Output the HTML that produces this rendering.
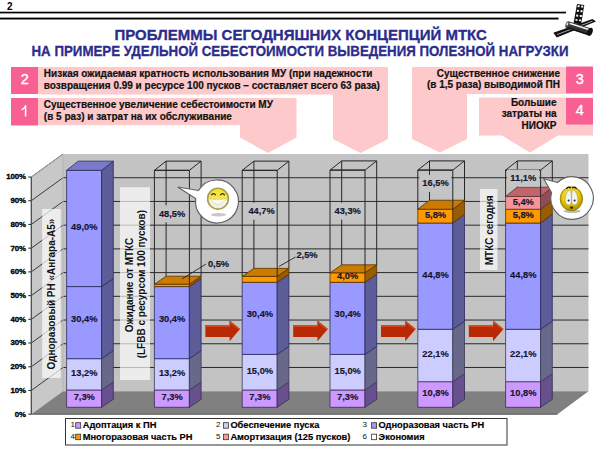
<!DOCTYPE html>
<html><head><meta charset="utf-8"><title>slide</title><style>
html,body{margin:0;padding:0;background:#fff;}
svg{display:block;}
text{font-family:"Liberation Sans",sans-serif;}
.pg{font-size:10px;font-weight:bold;fill:#000;}
.t1{font-size:15px;font-weight:bold;fill:#2c2c8c;stroke:#2c2c8c;stroke-width:0.3px;}
.t2{font-size:14px;font-weight:bold;fill:#2c2c8c;stroke:#2c2c8c;stroke-width:0.3px;}
.bx{font-size:10px;font-weight:bold;fill:#111;stroke:#111;stroke-width:0.2px;}
.dg{font-size:14.5px;fill:#fff;stroke:#fff;stroke-width:0.35px;}
.ax{font-size:7.8px;font-weight:bold;fill:#000;stroke:#000;stroke-width:0.35px;letter-spacing:-0.1px;}
.bl{font-size:9.3px;font-weight:bold;fill:#14142e;stroke:#14142e;stroke-width:0.15px;}
.rl{font-size:10px;font-weight:bold;fill:#111;}
.ln{font-size:8px;fill:#111;}
.lt{font-size:9.3px;font-weight:bold;fill:#000;stroke:#000;stroke-width:0.15px;}
</style></head>
<body><svg width="600" height="450" viewBox="0 0 600 450"><defs>
<linearGradient id="sm1" x1="0" y1="0" x2="0" y2="1"><stop offset="0" stop-color="#f2e030"/><stop offset="0.5" stop-color="#f4e650"/><stop offset="0.62" stop-color="#f8f6e6"/><stop offset="1" stop-color="#eeeee6"/></linearGradient>
<radialGradient id="sm2" cx="0.45" cy="0.35" r="0.7"><stop offset="0" stop-color="#fff070"/><stop offset="0.55" stop-color="#e8c800"/><stop offset="1" stop-color="#a08000"/></radialGradient>
</defs>
<text x="7" y="9.6" class="pg">2</text>
<rect x="0" y="11.7" width="566" height="1.7" fill="#000"/>
<rect x="0" y="17.6" width="558.5" height="1.9" fill="#000"/>
<text x="300.7" y="40" text-anchor="middle" class="t1">ПРОБЛЕММЫ СЕГОДНЯШНИХ КОНЦЕПЦИЙ МТКС</text>
<text x="300" y="56" text-anchor="middle" class="t2" textLength="537" lengthAdjust="spacingAndGlyphs">НА ПРИМЕРЕ УДЕЛЬНОЙ СЕБЕСТОИМОСТИ ВЫВЕДЕНИЯ ПОЛЕЗНОЙ НАГРУЗКИ</text>
<g>
 <polygon points="577,4 584.3,5 581.1,24.2 573.5,23.6" fill="#111"/>
 <g fill="#fff">
  <rect x="577.6" y="5.2" width="2" height="2"/><rect x="581.2" y="5.6" width="2" height="2"/>
  <rect x="576.9" y="9.8" width="2" height="2"/><rect x="580.5" y="10.2" width="2" height="2"/>
  <rect x="576.2" y="14.6" width="2" height="2"/><rect x="579.8" y="15" width="2" height="2"/>
  <rect x="575.5" y="19.2" width="2" height="1.6"/><rect x="579.1" y="19.5" width="2" height="1.6"/>
 </g>
 <polygon points="553.3,32.8 592.5,19 596,21.4 556.8,37.4" fill="#111"/>
 <polyline points="557,34.6 592.5,21.2" stroke="#ddd" stroke-width="0.7"/>
 <path d="M 568.5,21.2 L 590.5,28.2 L 588.5,35.6 L 566.5,28.2 Z" fill="#333"/>
 <path d="M 568.5,23 L 589.5,29.8" stroke="#f2f2f2" stroke-width="1.6"/>
 <path d="M 567.5,27.6 L 588.5,34.4" stroke="#111" stroke-width="1.2"/>
 <ellipse cx="567.5" cy="24.7" rx="2" ry="3.4" fill="#444" transform="rotate(18 567.5 24.7)"/>
 <ellipse cx="567.3" cy="24" rx="1" ry="1.6" fill="#ddd" transform="rotate(18 567.3 24)"/>
 <ellipse cx="590" cy="31.8" rx="2.6" ry="4.2" fill="#111" transform="rotate(18 590 31.8)"/>
</g>
<polygon points="38.00,67.00 388.00,67.00 388.00,139.00 360.50,153.00 333.00,139.00 333.00,94.50 38.00,94.50" fill="#fdc9cb" stroke="none" stroke-width="1" />
<polygon points="38.00,98.00 296.50,98.00 296.50,137.50 268.00,153.00 240.00,137.50 240.00,125.30 38.00,125.30" fill="#fdc9cb" stroke="none" stroke-width="1" />
<polygon points="412.00,67.00 566.00,67.00 566.00,94.00 467.00,94.00 467.00,139.00 440.00,152.50 412.00,139.00" fill="#fdc9cb" stroke="none" stroke-width="1" />
<polygon points="479.00,97.50 593.00,97.50 593.00,135.50 558.00,135.50 530.00,152.50 502.00,135.50 479.00,135.50" fill="#fdc9cb" stroke="none" stroke-width="1" />
<rect x="11" y="67" width="27" height="27" fill="#f85f93"/>
<text x="24.8" y="84.0" text-anchor="middle" class="dg">2</text>
<rect x="11" y="98" width="27" height="27.5" fill="#f85f93"/>
<path d="M 25.6,105.6 L 25.6,116.6 M 25.9,105.3 Q 24.5,108.6 21.6,109.8" stroke="#fff" stroke-width="1.5" fill="none"/>
<rect x="566" y="66.5" width="27" height="27.0" fill="#f85f93"/>
<text x="579.8" y="83.5" text-anchor="middle" class="dg">3</text>
<rect x="566" y="98" width="27" height="26.5" fill="#f85f93"/>
<text x="579.8" y="114.8" text-anchor="middle" class="dg">4</text>
<text x="43.8" y="77" text-anchor="start" class="bx">Низкая ожидаемая кратность использования МУ (при надежности</text>
<text x="43.8" y="88.7" text-anchor="start" class="bx">возвращения 0.99 и ресурсе 100 пусков – составляет всего 63 раза)</text>
<text x="43.8" y="108.2" text-anchor="start" class="bx">Существенное увеличение себестоимости МУ</text>
<text x="43.8" y="119.5" text-anchor="start" class="bx">(в 5 раз) и затрат на их обслуживание</text>
<text x="560" y="76.5" text-anchor="end" class="bx">Существенное снижение</text>
<text x="560" y="88" text-anchor="end" class="bx">(в 1,5 раза) выводимой ПН</text>
<text x="556.5" y="105.5" text-anchor="end" class="bx">Большие</text>
<text x="556.5" y="117.2" text-anchor="end" class="bx">затраты на</text>
<text x="556.5" y="128.6" text-anchor="end" class="bx">НИОКР</text>
<polygon points="31.30,177.00 63.00,154.00 63.00,391.20 31.30,414.20" fill="#c8c8c8" stroke="none" stroke-width="1" />
<polygon points="63.00,154.00 588.50,154.00 588.50,391.20 63.00,391.20" fill="#c3c3c3" stroke="none" stroke-width="1" />
<polygon points="31.30,414.20 63.00,391.20 588.50,391.20 557.50,414.20" fill="#808080" stroke="none" stroke-width="1" />
<line x1="28.30" y1="414.20" x2="31.30" y2="414.20" stroke="#333" stroke-width="1.1" />
<line x1="31.30" y1="390.48" x2="63.00" y2="367.48" stroke="#2a2a2a" stroke-width="0.9" />
<line x1="63.00" y1="367.48" x2="588.50" y2="367.48" stroke="#2a2a2a" stroke-width="1" />
<line x1="28.30" y1="390.48" x2="31.30" y2="390.48" stroke="#333" stroke-width="1.1" />
<line x1="31.30" y1="366.76" x2="63.00" y2="343.76" stroke="#2a2a2a" stroke-width="0.9" />
<line x1="63.00" y1="343.76" x2="588.50" y2="343.76" stroke="#2a2a2a" stroke-width="1" />
<line x1="28.30" y1="366.76" x2="31.30" y2="366.76" stroke="#333" stroke-width="1.1" />
<line x1="31.30" y1="343.04" x2="63.00" y2="320.04" stroke="#2a2a2a" stroke-width="0.9" />
<line x1="63.00" y1="320.04" x2="588.50" y2="320.04" stroke="#2a2a2a" stroke-width="1" />
<line x1="28.30" y1="343.04" x2="31.30" y2="343.04" stroke="#333" stroke-width="1.1" />
<line x1="31.30" y1="319.32" x2="63.00" y2="296.32" stroke="#2a2a2a" stroke-width="0.9" />
<line x1="63.00" y1="296.32" x2="588.50" y2="296.32" stroke="#2a2a2a" stroke-width="1" />
<line x1="28.30" y1="319.32" x2="31.30" y2="319.32" stroke="#333" stroke-width="1.1" />
<line x1="31.30" y1="295.60" x2="63.00" y2="272.60" stroke="#2a2a2a" stroke-width="0.9" />
<line x1="63.00" y1="272.60" x2="588.50" y2="272.60" stroke="#2a2a2a" stroke-width="1" />
<line x1="28.30" y1="295.60" x2="31.30" y2="295.60" stroke="#333" stroke-width="1.1" />
<line x1="31.30" y1="271.88" x2="63.00" y2="248.88" stroke="#2a2a2a" stroke-width="0.9" />
<line x1="63.00" y1="248.88" x2="588.50" y2="248.88" stroke="#2a2a2a" stroke-width="1" />
<line x1="28.30" y1="271.88" x2="31.30" y2="271.88" stroke="#333" stroke-width="1.1" />
<line x1="31.30" y1="248.16" x2="63.00" y2="225.16" stroke="#2a2a2a" stroke-width="0.9" />
<line x1="63.00" y1="225.16" x2="588.50" y2="225.16" stroke="#2a2a2a" stroke-width="1" />
<line x1="28.30" y1="248.16" x2="31.30" y2="248.16" stroke="#333" stroke-width="1.1" />
<line x1="31.30" y1="224.44" x2="63.00" y2="201.44" stroke="#2a2a2a" stroke-width="0.9" />
<line x1="63.00" y1="201.44" x2="588.50" y2="201.44" stroke="#2a2a2a" stroke-width="1" />
<line x1="28.30" y1="224.44" x2="31.30" y2="224.44" stroke="#333" stroke-width="1.1" />
<line x1="31.30" y1="200.72" x2="63.00" y2="177.72" stroke="#2a2a2a" stroke-width="0.9" />
<line x1="63.00" y1="177.72" x2="588.50" y2="177.72" stroke="#2a2a2a" stroke-width="1" />
<line x1="28.30" y1="200.72" x2="31.30" y2="200.72" stroke="#333" stroke-width="1.1" />
<line x1="31.30" y1="177.00" x2="63.00" y2="154.00" stroke="#2a2a2a" stroke-width="0.9" />
<line x1="28.30" y1="177.00" x2="31.30" y2="177.00" stroke="#333" stroke-width="1.1" />
<line x1="31.30" y1="177.00" x2="63.00" y2="154.00" stroke="#b8b8b8" stroke-width="0.8" />
<line x1="63.00" y1="154.00" x2="63.00" y2="391.20" stroke="#b5b5b5" stroke-width="1" />
<line x1="31.30" y1="177.00" x2="31.30" y2="414.20" stroke="#4a4a4a" stroke-width="1.3" />
<line x1="31.30" y1="414.20" x2="557.50" y2="414.20" stroke="#555" stroke-width="1" />
<text x="25.8" y="416.6" text-anchor="end" class="ax">0%</text>
<text x="25.8" y="392.9" text-anchor="end" class="ax">10%</text>
<text x="25.8" y="369.2" text-anchor="end" class="ax">20%</text>
<text x="25.8" y="345.4" text-anchor="end" class="ax">30%</text>
<text x="25.8" y="321.7" text-anchor="end" class="ax">40%</text>
<text x="25.8" y="298.0" text-anchor="end" class="ax">50%</text>
<text x="25.8" y="274.3" text-anchor="end" class="ax">60%</text>
<text x="25.8" y="250.6" text-anchor="end" class="ax">70%</text>
<text x="25.8" y="226.8" text-anchor="end" class="ax">80%</text>
<text x="25.8" y="203.1" text-anchor="end" class="ax">90%</text>
<text x="25.8" y="179.4" text-anchor="end" class="ax">100%</text>
<rect x="42.2" y="209" width="18.5" height="169" fill="#fff" fill-opacity="0.68"/>
<rect x="120" y="187.2" width="30" height="192.8" fill="#fff" fill-opacity="0.68"/>
<rect x="480" y="189" width="17.5" height="81" fill="#fff" fill-opacity="0.68"/>
<text transform="translate(54.5 294) rotate(-90)" text-anchor="middle" class="rl">Одноразовый РН «Ангара-А5»</text>
<text transform="translate(133.3 285) rotate(-90)" text-anchor="middle" class="rl">Ожидание от МТКС</text>
<text transform="translate(145.2 284.2) rotate(-90)" text-anchor="middle" class="rl">(LFBB с ресурсом 100 пусков)</text>
<text transform="translate(493 230.4) rotate(-90)" text-anchor="middle" class="rl">МТКС сегодня</text>
<polygon points="66.60,407.30 101.60,407.30 101.60,389.98 66.60,389.98" fill="#cc99ff" stroke="#3a2a55" stroke-width="0.8" />
<polygon points="101.60,407.30 113.30,399.30 113.30,381.98 101.60,389.98" fill="#67508e" stroke="#3a2a55" stroke-width="0.8" />
<polygon points="66.60,389.98 101.60,389.98 101.60,358.67 66.60,358.67" fill="#ccccff" stroke="#3a3a55" stroke-width="0.8" />
<polygon points="101.60,389.98 113.30,381.98 113.30,350.67 101.60,358.67" fill="#68688a" stroke="#3a3a55" stroke-width="0.8" />
<polygon points="66.60,358.67 101.60,358.67 101.60,286.57 66.60,286.57" fill="#9999ff" stroke="#2a2a60" stroke-width="0.8" />
<polygon points="101.60,358.67 113.30,350.67 113.30,278.57 101.60,286.57" fill="#5c5c99" stroke="#2a2a60" stroke-width="0.8" />
<polygon points="66.60,286.57 101.60,286.57 101.60,170.34 66.60,170.34" fill="#9999ff" stroke="#2a2a60" stroke-width="0.8" />
<polygon points="101.60,286.57 113.30,278.57 113.30,161.14 101.60,170.34" fill="#5c5c99" stroke="#2a2a60" stroke-width="0.8" />
<polygon points="66.60,170.34 78.30,161.14 113.30,161.14 101.60,170.34" fill="#7a7acc" stroke="#2a2a60" stroke-width="0.8" />
<polygon points="154.40,407.30 189.40,407.30 189.40,389.98 154.40,389.98" fill="#cc99ff" stroke="#3a2a55" stroke-width="0.8" />
<polygon points="189.40,407.30 201.10,399.30 201.10,381.98 189.40,389.98" fill="#67508e" stroke="#3a2a55" stroke-width="0.8" />
<polygon points="154.40,389.98 189.40,389.98 189.40,358.67 154.40,358.67" fill="#ccccff" stroke="#3a3a55" stroke-width="0.8" />
<polygon points="189.40,389.98 201.10,381.98 201.10,350.67 189.40,358.67" fill="#68688a" stroke="#3a3a55" stroke-width="0.8" />
<polygon points="154.40,358.67 189.40,358.67 189.40,286.57 154.40,286.57" fill="#9999ff" stroke="#2a2a60" stroke-width="0.8" />
<polygon points="189.40,358.67 201.10,350.67 201.10,278.57 189.40,286.57" fill="#5c5c99" stroke="#2a2a60" stroke-width="0.8" />
<polygon points="154.40,286.57 189.40,286.57 189.40,284.19 154.40,284.19" fill="#ff9900" stroke="#553300" stroke-width="0.8" />
<polygon points="189.40,286.57 201.10,278.57 201.10,276.19 189.40,284.19" fill="#995c00" stroke="#553300" stroke-width="0.8" />
<polygon points="154.40,284.19 166.10,276.19 201.10,276.19 189.40,284.19" fill="#cc7a00" stroke="#553300" stroke-width="0.8" />
<g fill="none" stroke="#262626" stroke-width="1">
<polyline points="154.40,284.19 154.40,170.34 189.40,170.34 189.40,284.19"/>
<polygon points="154.40,170.34 166.10,161.14 201.10,161.14 189.40,170.34"/>
<polyline points="166.10,276.19 166.10,161.14"/>
<polyline points="201.10,276.19 201.10,161.14"/>
</g>
<polygon points="242.20,407.30 277.20,407.30 277.20,389.98 242.20,389.98" fill="#cc99ff" stroke="#3a2a55" stroke-width="0.8" />
<polygon points="277.20,407.30 288.90,399.30 288.90,381.98 277.20,389.98" fill="#67508e" stroke="#3a2a55" stroke-width="0.8" />
<polygon points="242.20,389.98 277.20,389.98 277.20,354.40 242.20,354.40" fill="#ccccff" stroke="#3a3a55" stroke-width="0.8" />
<polygon points="277.20,389.98 288.90,381.98 288.90,346.40 277.20,354.40" fill="#68688a" stroke="#3a3a55" stroke-width="0.8" />
<polygon points="242.20,354.40 277.20,354.40 277.20,282.30 242.20,282.30" fill="#9999ff" stroke="#2a2a60" stroke-width="0.8" />
<polygon points="277.20,354.40 288.90,346.40 288.90,274.30 277.20,282.30" fill="#5c5c99" stroke="#2a2a60" stroke-width="0.8" />
<polygon points="242.20,282.30 277.20,282.30 277.20,276.37 242.20,276.37" fill="#ff9900" stroke="#553300" stroke-width="0.8" />
<polygon points="277.20,282.30 288.90,274.30 288.90,268.37 277.20,276.37" fill="#995c00" stroke="#553300" stroke-width="0.8" />
<polygon points="242.20,276.37 253.90,268.37 288.90,268.37 277.20,276.37" fill="#cc7a00" stroke="#553300" stroke-width="0.8" />
<g fill="none" stroke="#262626" stroke-width="1">
<polyline points="242.20,276.37 242.20,170.34 277.20,170.34 277.20,276.37"/>
<polygon points="242.20,170.34 253.90,161.14 288.90,161.14 277.20,170.34"/>
<polyline points="253.90,268.37 253.90,161.14"/>
<polyline points="288.90,268.37 288.90,161.14"/>
</g>
<polygon points="330.00,407.30 365.00,407.30 365.00,389.98 330.00,389.98" fill="#cc99ff" stroke="#3a2a55" stroke-width="0.8" />
<polygon points="365.00,407.30 376.70,399.30 376.70,381.98 365.00,389.98" fill="#67508e" stroke="#3a2a55" stroke-width="0.8" />
<polygon points="330.00,389.98 365.00,389.98 365.00,354.40 330.00,354.40" fill="#ccccff" stroke="#3a3a55" stroke-width="0.8" />
<polygon points="365.00,389.98 376.70,381.98 376.70,346.40 365.00,354.40" fill="#68688a" stroke="#3a3a55" stroke-width="0.8" />
<polygon points="330.00,354.40 365.00,354.40 365.00,282.30 330.00,282.30" fill="#9999ff" stroke="#2a2a60" stroke-width="0.8" />
<polygon points="365.00,354.40 376.70,346.40 376.70,274.30 365.00,282.30" fill="#5c5c99" stroke="#2a2a60" stroke-width="0.8" />
<polygon points="330.00,282.30 365.00,282.30 365.00,272.81 330.00,272.81" fill="#ff9900" stroke="#553300" stroke-width="0.8" />
<polygon points="365.00,282.30 376.70,274.30 376.70,264.81 365.00,272.81" fill="#995c00" stroke="#553300" stroke-width="0.8" />
<polygon points="330.00,272.81 341.70,264.81 376.70,264.81 365.00,272.81" fill="#cc7a00" stroke="#553300" stroke-width="0.8" />
<g fill="none" stroke="#262626" stroke-width="1">
<polyline points="330.00,272.81 330.00,170.10 365.00,170.10 365.00,272.81"/>
<polygon points="330.00,170.10 341.70,160.90 376.70,160.90 365.00,170.10"/>
<polyline points="341.70,264.81 341.70,160.90"/>
<polyline points="376.70,264.81 376.70,160.90"/>
</g>
<polygon points="417.80,407.30 452.80,407.30 452.80,381.68 417.80,381.68" fill="#cc99ff" stroke="#3a2a55" stroke-width="0.8" />
<polygon points="452.80,407.30 464.50,399.30 464.50,373.68 452.80,381.68" fill="#67508e" stroke="#3a2a55" stroke-width="0.8" />
<polygon points="417.80,381.68 452.80,381.68 452.80,329.26 417.80,329.26" fill="#ccccff" stroke="#3a3a55" stroke-width="0.8" />
<polygon points="452.80,381.68 464.50,373.68 464.50,321.26 452.80,329.26" fill="#68688a" stroke="#3a3a55" stroke-width="0.8" />
<polygon points="417.80,329.26 452.80,329.26 452.80,223.00 417.80,223.00" fill="#9999ff" stroke="#2a2a60" stroke-width="0.8" />
<polygon points="452.80,329.26 464.50,321.26 464.50,214.26 452.80,223.00" fill="#5c5c99" stroke="#2a2a60" stroke-width="0.8" />
<polygon points="417.80,223.00 452.80,223.00 452.80,209.24 417.80,209.24" fill="#ff9900" stroke="#553300" stroke-width="0.8" />
<polygon points="452.80,223.00 464.50,214.26 464.50,200.22 452.80,209.24" fill="#995c00" stroke="#553300" stroke-width="0.8" />
<polygon points="417.80,209.24 429.50,200.22 464.50,200.22 452.80,209.24" fill="#cc7a00" stroke="#553300" stroke-width="0.8" />
<g fill="none" stroke="#262626" stroke-width="1">
<polyline points="417.80,209.24 417.80,170.10 452.80,170.10 452.80,209.24"/>
<polygon points="417.80,170.10 429.50,160.90 464.50,160.90 452.80,170.10"/>
<polyline points="429.50,200.22 429.50,160.90"/>
<polyline points="464.50,200.22 464.50,160.90"/>
</g>
<polygon points="505.60,407.30 540.60,407.30 540.60,381.68 505.60,381.68" fill="#cc99ff" stroke="#3a2a55" stroke-width="0.8" />
<polygon points="540.60,407.30 552.30,399.30 552.30,373.68 540.60,381.68" fill="#67508e" stroke="#3a2a55" stroke-width="0.8" />
<polygon points="505.60,381.68 540.60,381.68 540.60,329.26 505.60,329.26" fill="#ccccff" stroke="#3a3a55" stroke-width="0.8" />
<polygon points="540.60,381.68 552.30,373.68 552.30,321.26 540.60,329.26" fill="#68688a" stroke="#3a3a55" stroke-width="0.8" />
<polygon points="505.60,329.26 540.60,329.26 540.60,223.00 505.60,223.00" fill="#9999ff" stroke="#2a2a60" stroke-width="0.8" />
<polygon points="540.60,329.26 552.30,321.26 552.30,214.26 540.60,223.00" fill="#5c5c99" stroke="#2a2a60" stroke-width="0.8" />
<polygon points="505.60,223.00 540.60,223.00 540.60,209.24 505.60,209.24" fill="#ff9900" stroke="#553300" stroke-width="0.8" />
<polygon points="540.60,223.00 552.30,214.26 552.30,200.22 540.60,209.24" fill="#995c00" stroke="#553300" stroke-width="0.8" />
<polygon points="505.60,209.24 540.60,209.24 540.60,196.43 505.60,196.43" fill="#f79499" stroke="#553333" stroke-width="0.8" />
<polygon points="540.60,209.24 552.30,200.22 552.30,187.23 540.60,196.43" fill="#8f4d57" stroke="#553333" stroke-width="0.8" />
<polygon points="505.60,196.43 517.30,187.23 552.30,187.23 540.60,196.43" fill="#c2646c" stroke="#553333" stroke-width="0.8" />
<g fill="none" stroke="#262626" stroke-width="1">
<polyline points="505.60,196.43 505.60,170.10 540.60,170.10 540.60,196.43"/>
<polygon points="505.60,170.10 517.30,160.90 552.30,160.90 540.60,170.10"/>
<polyline points="517.30,187.23 517.30,160.90"/>
<polyline points="552.30,187.23 552.30,160.90"/>
</g>
<text x="84.3" y="400.3" text-anchor="middle" class="bl">7,3%</text>
<text x="84.3" y="376.0" text-anchor="middle" class="bl">13,2%</text>
<text x="84.3" y="321.7" text-anchor="middle" class="bl">30,4%</text>
<text x="84.3" y="230.2" text-anchor="middle" class="bl">49,0%</text>
<text x="172.1" y="400.3" text-anchor="middle" class="bl">7,3%</text>
<text x="172.1" y="376.0" text-anchor="middle" class="bl">13,2%</text>
<text x="172.1" y="321.7" text-anchor="middle" class="bl">30,4%</text>
<rect x="155.9" y="205.3" width="32.0" height="17" fill="#c5c5c5"/>
<text x="172.1" y="216.7" text-anchor="middle" class="bl">48,5%</text>
<text x="259.9" y="400.3" text-anchor="middle" class="bl">7,3%</text>
<text x="259.9" y="373.9" text-anchor="middle" class="bl">15,0%</text>
<text x="259.9" y="317.4" text-anchor="middle" class="bl">30,4%</text>
<rect x="243.7" y="202.7" width="32.0" height="17" fill="#c5c5c5"/>
<text x="261.6" y="214.1" text-anchor="middle" class="bl">44,7%</text>
<text x="347.7" y="400.3" text-anchor="middle" class="bl">7,3%</text>
<text x="347.7" y="373.9" text-anchor="middle" class="bl">15,0%</text>
<text x="347.7" y="317.4" text-anchor="middle" class="bl">30,4%</text>
<text x="347.7" y="279.3" text-anchor="middle" class="bl">4,0%</text>
<rect x="331.5" y="202.7" width="32.0" height="17" fill="#c5c5c5"/>
<text x="347.7" y="214.1" text-anchor="middle" class="bl">43,3%</text>
<text x="435.5" y="396.2" text-anchor="middle" class="bl">10,8%</text>
<text x="435.5" y="357.2" text-anchor="middle" class="bl">22,1%</text>
<text x="435.5" y="277.8" text-anchor="middle" class="bl">44,8%</text>
<text x="435.5" y="217.8" text-anchor="middle" class="bl">5,8%</text>
<rect x="419.3" y="174.9" width="32.0" height="17" fill="#c5c5c5"/>
<text x="435.5" y="186.3" text-anchor="middle" class="bl">16,5%</text>
<text x="523.3" y="396.2" text-anchor="middle" class="bl">10,8%</text>
<text x="523.3" y="357.2" text-anchor="middle" class="bl">22,1%</text>
<text x="523.3" y="277.8" text-anchor="middle" class="bl">44,8%</text>
<text x="523.3" y="217.8" text-anchor="middle" class="bl">5,8%</text>
<text x="523.3" y="204.5" text-anchor="middle" class="bl">5,4%</text>
<rect x="507.1" y="169.6" width="32.0" height="17" fill="#c5c5c5"/>
<text x="523.3" y="181.0" text-anchor="middle" class="bl">11,1%</text>
<line x1="182.00" y1="279.00" x2="206.00" y2="264.00" stroke="#222" stroke-width="0.9" />
<text x="218.5" y="266.5" text-anchor="middle" class="bl">0,5%</text>
<line x1="279.00" y1="266.50" x2="295.50" y2="257.00" stroke="#222" stroke-width="0.9" />
<text x="307" y="257.8" text-anchor="middle" class="bl">2,5%</text>
<polygon points="205.40,325.00 229.60,325.00 229.60,320.60 240.10,328.90 229.60,341.30 229.60,336.90 205.40,336.90" fill="#b82a04" stroke="none" stroke-width="1" /><polygon points="205.40,325.00 229.60,325.00 229.60,320.60 240.10,328.90 238.90,329.80 230.10,323.00 230.10,327.00 205.40,327.00" fill="#d8481a" stroke="none" stroke-width="1" />
<polygon points="293.20,325.00 317.40,325.00 317.40,320.60 327.90,328.90 317.40,341.30 317.40,336.90 293.20,336.90" fill="#b82a04" stroke="none" stroke-width="1" /><polygon points="293.20,325.00 317.40,325.00 317.40,320.60 327.90,328.90 326.70,329.80 317.90,323.00 317.90,327.00 293.20,327.00" fill="#d8481a" stroke="none" stroke-width="1" />
<polygon points="381.00,325.00 405.20,325.00 405.20,320.60 415.70,328.90 405.20,341.30 405.20,336.90 381.00,336.90" fill="#b82a04" stroke="none" stroke-width="1" /><polygon points="381.00,325.00 405.20,325.00 405.20,320.60 415.70,328.90 414.50,329.80 405.70,323.00 405.70,327.00 381.00,327.00" fill="#d8481a" stroke="none" stroke-width="1" />
<polygon points="468.80,325.00 493.00,325.00 493.00,320.60 503.50,328.90 493.00,341.30 493.00,336.90 468.80,336.90" fill="#b82a04" stroke="none" stroke-width="1" /><polygon points="468.80,325.00 493.00,325.00 493.00,320.60 503.50,328.90 502.30,329.80 493.50,323.00 493.50,327.00 468.80,327.00" fill="#d8481a" stroke="none" stroke-width="1" />
<path d="M 198.5,190.5 L 177.7,187 L 195.7,198.5 A 21.5 21.5 0 1 0 198.5,190.5 Z" fill="#fff" stroke="#646464" stroke-width="1.2"/>
<path d="M 557.5,182.5 L 543.7,178.7 L 551.5,192.5 A 21.3 21.3 0 1 0 557.5,182.5 Z" fill="#fff" stroke="#646464" stroke-width="1.2"/>
<g>
 <ellipse cx="218.5" cy="214.8" rx="7.5" ry="1.7" fill="#9a9a9a" opacity="0.55"/>
 <circle cx="218" cy="198.7" r="10.4" fill="url(#sm1)" stroke="#a8a050" stroke-width="1.6"/>
 <path d="M 209.8,198.2 Q 218,211 226.2,198.2 Q 218,201.5 209.8,198.2 Z" fill="#fbfbf4" stroke="#c8c090" stroke-width="0.5"/>
 <path d="M 211.3,195.2 Q 213.5,192.2 215.7,195.2" stroke="#2a2a10" stroke-width="1.3" fill="none"/>
 <path d="M 220.3,195.2 Q 222.5,192.2 224.7,195.2" stroke="#2a2a10" stroke-width="1.3" fill="none"/>
</g>
<g>
 <ellipse cx="572" cy="211.3" rx="8.5" ry="1.8" fill="#888" opacity="0.55"/>
 <ellipse cx="571.4" cy="198.8" rx="11.2" ry="12" fill="url(#sm2)" stroke="#8a7a08" stroke-width="0.9"/>
 <path d="M 570.2,189.8 C 565.8,191 564.2,199.5 565.6,203 C 567,205.8 571,205.5 571.3,202 C 571.6,197 571.4,191 570.2,189.8 Z" fill="#f2f2f2" stroke="#9a8a10" stroke-width="0.5"/>
 <path d="M 572.8,189.8 C 577.2,191 578.8,199.5 577.4,203 C 576,205.8 572,205.5 571.7,202 C 571.4,197 571.6,191 572.8,189.8 Z" fill="#f2f2f2" stroke="#9a8a10" stroke-width="0.5"/>
 <circle cx="568.6" cy="200.6" r="1" fill="#223"/>
 <circle cx="574.6" cy="200.6" r="1" fill="#223"/>
 <path d="M 566.5,188.8 Q 568.5,185.8 570.6,188.3" stroke="#1a1a1a" stroke-width="1.4" fill="none"/>
 <path d="M 572.4,188.3 Q 574.5,185.8 576.5,188.8" stroke="#1a1a1a" stroke-width="1.4" fill="none"/>
 <ellipse cx="571.6" cy="207.6" rx="1.7" ry="1.3" fill="#4a2a00"/>
</g>
<rect x="65.5" y="418.5" width="441.5" height="26.5" fill="#fff" stroke="#333" stroke-width="1"/>
<text x="74.9" y="427.4" text-anchor="end" class="ln">1</text>
<rect x="75.7" y="422.7" width="5" height="5.5" fill="#cc99ff" stroke="#333" stroke-width="0.8"/>
<text x="82.7" y="428.2" class="lt">Адоптация к ПН</text>
<text x="220.5" y="427.4" text-anchor="end" class="ln">2</text>
<rect x="223.4" y="422.7" width="5" height="5.5" fill="#ccccff" stroke="#333" stroke-width="0.8"/>
<text x="230.4" y="428.2" class="lt">Обеспечение пуска</text>
<text x="366.9" y="427.4" text-anchor="end" class="ln">3</text>
<rect x="371.6" y="422.7" width="5" height="5.5" fill="#9999ff" stroke="#333" stroke-width="0.8"/>
<text x="378.6" y="428.2" class="lt">Одноразовая часть РН</text>
<text x="74.9" y="438.9" text-anchor="end" class="ln">4</text>
<rect x="75.7" y="434.2" width="5" height="5.5" fill="#ff9900" stroke="#333" stroke-width="0.8"/>
<text x="82.7" y="439.7" class="lt">Многоразовая часть РН</text>
<text x="220.5" y="438.9" text-anchor="end" class="ln">5</text>
<rect x="223.4" y="434.2" width="5" height="5.5" fill="#ff9999" stroke="#333" stroke-width="0.8"/>
<text x="230.4" y="439.7" class="lt">Амортизация (125 пусков)</text>
<text x="366.9" y="438.9" text-anchor="end" class="ln">6</text>
<rect x="371.6" y="434.2" width="5" height="5.5" fill="#ffffff" stroke="#333" stroke-width="0.8"/>
<text x="378.6" y="439.7" class="lt">Экономия</text>
</svg></body></html>
